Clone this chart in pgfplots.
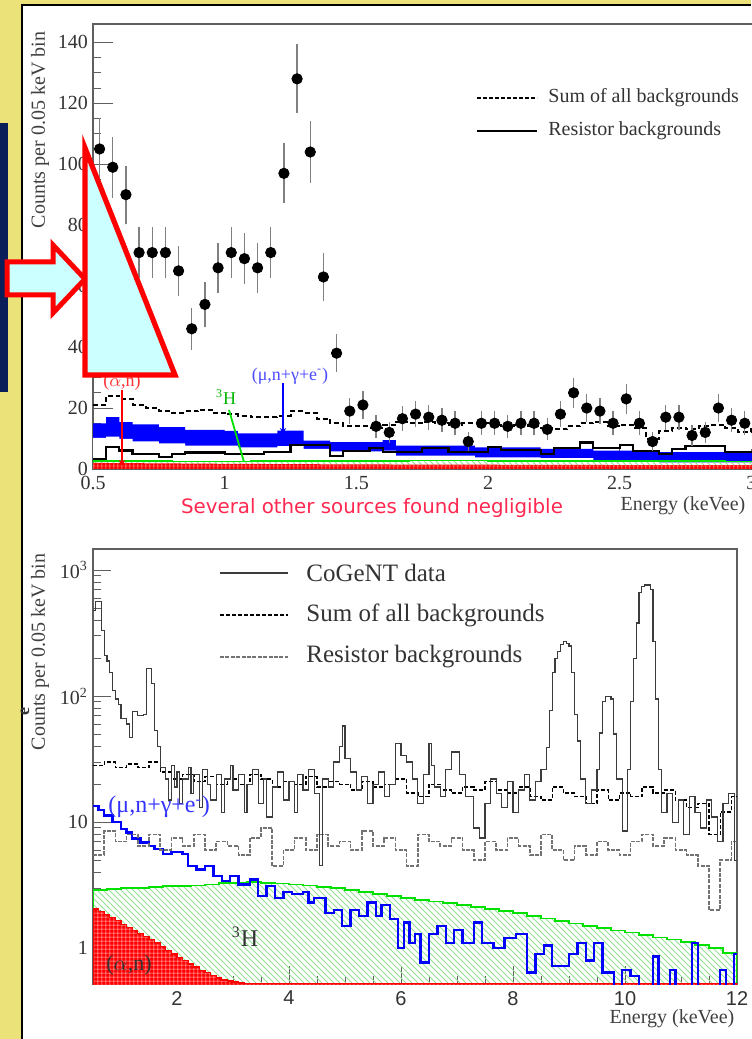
\documentclass[border=0pt]{standalone}
\usepackage{pgfplots}
\pgfplotsset{compat=1.18}
\usetikzlibrary{patterns,arrows.meta}
\usepackage{fontspec}
\setmainfont{Liberation Serif}
\newfontfamily\hel{Liberation Sans}
\newfontfamily\comic{DejaVu Sans}
\definecolor{bgyellow}{RGB}{236,226,122}
\definecolor{navy}{RGB}{10,30,90}
\definecolor{cyanfill}{RGB}{204,255,255}
\definecolor{framegray}{RGB}{95,95,95}
\definecolor{datagray}{RGB}{60,60,60}
\definecolor{resgray}{RGB}{115,115,115}
\definecolor{hgreen}{RGB}{0,225,0}
\definecolor{hatchgreen}{RGB}{150,225,150}
\definecolor{textred}{RGB}{255,40,80}
\definecolor{mublue}{RGB}{0,0,255}
\definecolor{gridwhite}{RGB}{255,190,190}
\pgfdeclarepatternformonly{finegrid}{\pgfpointorigin}{\pgfqpoint{2.2pt}{2.2pt}}{\pgfqpoint{2.2pt}{2.2pt}}{%
  \pgfsetlinewidth{0.25pt}%
  \pgfpathmoveto{\pgfqpoint{0pt}{1.1pt}}\pgfpathlineto{\pgfqpoint{2.2pt}{1.1pt}}%
  \pgfpathmoveto{\pgfqpoint{1.1pt}{0pt}}\pgfpathlineto{\pgfqpoint{1.1pt}{2.2pt}}%
  \pgfusepath{stroke}}
\pgfdeclarepatternformonly{finehatch}{\pgfqpoint{-1pt}{-1pt}}{\pgfqpoint{4pt}{4pt}}{\pgfqpoint{3pt}{3pt}}{%
  \pgfsetlinewidth{0.45pt}%
  \pgfpathmoveto{\pgfqpoint{0pt}{3pt}}\pgfpathlineto{\pgfqpoint{3.1pt}{-0.1pt}}%
  \pgfusepath{stroke}}

\begin{document}
\begin{tikzpicture}
\fill[bgyellow] (0,0) rectangle (375.5pt,519.5pt);
\fill[white] (11pt,0pt) rectangle (375.5pt,517pt);
\draw[black, line width=1pt] (11pt,0pt) -- (11pt,517pt) -- (375.5pt,517pt);

% ---------------- TOP PANEL ----------------
\begin{axis}[
  at={(46.5pt,285pt)}, anchor=south west,
  scale only axis, width=355.5pt, height=222.5pt,
  xmin=0.5, xmax=3.2, ymin=0, ymax=146,
  axis line style={framegray, line width=0.6pt},
  tick align=inside, xtick pos=left, ytick pos=left,
  xtick={0.5,1,1.5,2,2.5,3}, xticklabels={0.5,1,1.5,2,2.5,3},
  ytick={0,20,40,60,80,100,120,140},
  minor x tick num=4, minor y tick num=3,
  major tick length=10pt, minor tick length=4pt,
  tick style={framegray, line width=0.5pt},
  ticklabel style={font=\fontsize{10}{12}\selectfont, text=black!80},
  /pgf/number format/assume math mode=true,
  yticklabel style={xshift=1pt},
]
% blue band: upper edge filled, lower part blanked
\addplot[draw=none, fill=mublue, const plot] coordinates {
(0.50,0) (0.50,15) (0.55,17) (0.60,15.4) (0.65,14.6) (0.75,13.7) (0.85,12.8) (1.00,12.5) (1.05,11.7)
(1.20,12.6) (1.30,9.3) (1.40,8.8) (1.60,9.5) (1.65,7.7) (1.95,7.1) (2.20,6.6) (2.40,6.0) (2.65,5.5) (3.20,5.5) (3.20,0)};
\addplot[draw=none, fill=white, const plot] coordinates {
(0.50,0) (0.50,10.2) (0.55,10.6) (0.60,9.9) (0.65,9.1) (0.75,8.4) (0.85,7.7) (1.05,7.1) (1.20,7.5)
(1.30,6.6) (1.40,5.8) (1.60,6.0) (1.65,4.4) (1.95,3.8) (2.20,3.6) (2.40,2.7) (2.65,2.2) (3.20,2.2) (3.20,0)};
% green 3H hatched strip
\addplot[hgreen, line width=0.8pt, const plot, pattern=finehatch, pattern color=hatchgreen] coordinates {
(0.5,0) (0.5,2.6) (0.8,2.5) (1.1,2.7) (1.4,2.6) (1.7,2.8) (2.0,2.6) (2.3,2.7) (2.6,2.6) (2.9,2.5) (3.2,2.5) (3.2,0)};
% red (alpha,n) strip
\addplot[draw=none, fill=red, postaction={pattern=finegrid, pattern color=gridwhite}]
  coordinates {(0.5,0) (0.5,2.0) (1.0,1.7) (1.5,1.5) (2.0,1.4) (2.5,1.3) (3.2,1.2) (3.2,0)};
% resistor backgrounds (solid)
\addplot[black, line width=1.1pt, const plot] coordinates {
(0.50,3.2) (0.55,7.2) (0.60,6.1) (0.65,5.0) (0.75,3.9) (0.80,5.0) (0.85,5.4) (1.00,5.0)
(1.15,5.6) (1.25,7.8) (1.40,4.3) (1.45,5.9) (1.55,7.0) (1.60,5.6) (1.75,6.8) (1.85,5.6)
(2.00,7.3) (2.05,6.25) (2.20,4.8) (2.25,7.0) (2.35,8.7) (2.40,6.8) (2.50,7.9) (2.55,5.9)
(2.65,4.8) (2.70,6.5) (2.75,7.6) (2.90,5.6) (3.20,5.6)};
% sum of all backgrounds (dashed)
\addplot[black, line width=1pt, dash pattern=on 2.5pt off 1.5pt, const plot] coordinates {
(0.50,21) (0.55,24) (0.60,23) (0.65,21) (0.70,20) (0.75,19) (0.80,18.5) (0.85,19) (0.90,19.5)
(0.95,18.5) (1.00,18) (1.05,17.5) (1.10,17) (1.15,17) (1.20,17.5) (1.25,19) (1.30,18.5)
(1.35,16.5) (1.40,15) (1.45,14) (1.50,14) (1.55,13.5) (1.60,14.5) (1.65,15.5) (1.70,15)
(1.75,15.5) (1.80,15) (1.85,14.5) (1.90,15) (1.95,15) (2.00,14.5) (2.05,14) (2.10,14.5)
(2.15,14) (2.20,13.5) (2.25,13) (2.30,14) (2.35,15) (2.40,15.5) (2.45,14) (2.50,14.5)
(2.55,13.5) (2.60,10) (2.65,12.5) (2.70,13.5) (2.75,13) (2.80,14) (2.85,14.5) (2.90,13.5)
(2.95,12) (3.00,13) (3.20,13)};
% data points
\addplot[only marks, mark=*, mark size=2.6pt, black,
  error bars/.cd, y dir=both, y explicit, error mark=none,
  error bar style={line width=0.6pt, black!50}]
  table[x=x, y=y, y error=e] {
x y e
0.525 105 10.2
0.575 99 10
0.625 90 9.5
0.675 71 8.4
0.725 71 8.4
0.775 71 8.4
0.825 65 8.1
0.875 46 6.8
0.925 54 7.3
0.975 66 8.1
1.025 71 8.4
1.075 69 8.3
1.125 66 8.1
1.175 71 8.4
1.225 97 9.8
1.275 128 11.3
1.325 104 10.2
1.375 63 7.9
1.425 38 6.2
1.475 19 4.4
1.525 21 4.6
1.575 14 3.7
1.625 12 3.5
1.675 16.5 4.1
1.725 18 4.2
1.775 17 4.1
1.825 16 4
1.875 15 3.9
1.925 9 3
1.975 15 3.9
2.025 15 3.9
2.075 14 3.7
2.125 15 3.9
2.175 15 3.9
2.225 13 3.6
2.275 18 4.2
2.325 25 5
2.375 20 4.5
2.425 19 4.4
2.475 15 3.9
2.525 23 4.8
2.575 15 3.9
2.625 9 3
2.675 17 4.1
2.725 17 4.1
2.775 11 3.3
2.825 12 3.5
2.875 20 4.5
2.925 16 4
2.975 15 3.9
3.025 14 3.7
};
\end{axis}

% top panel texts
\node[rotate=90, font=\fontsize{10}{12}\selectfont, text=black!75] at (20pt,454.5pt) {Counts per 0.05 keV bin};
\node[font=\fontsize{10}{12}\selectfont, text=black!75] at (341.5pt,266.5pt) {Energy (keVee)};
\node[font=\comic\fontsize{9.9}{11}\selectfont, text=textred] at (186pt,265.5pt) {Several other sources found negligible};
\draw[black, line width=1pt, dash pattern=on 2pt off 1pt] (238.5pt,470.5pt) -- (268.5pt,470.5pt);
\node[anchor=west, font=\fontsize{10}{12}\selectfont, text=black!80, inner sep=0pt] at (274pt,470.5pt) {Sum of all backgrounds};
\draw[black, line width=1.3pt] (238.5pt,454pt) -- (268.5pt,454pt);
\node[anchor=west, font=\fontsize{10}{12}\selectfont, text=black!80, inner sep=0pt] at (274pt,454pt) {Resistor backgrounds};
% annotations
\node[font=\fontsize{9}{11}\selectfont, text=red!80] at (61pt,328.5pt) {($\alpha$,n)};
\draw[red, line width=0.9pt, -{Stealth[length=3pt,width=3pt]}] (61pt,324.5pt) -- (61pt,286.5pt);
\node[font=\fontsize{9}{11}\selectfont, text=hgreen!80!black] at (113pt,321pt) {\textsuperscript{3}H};
\draw[hgreen, line width=0.9pt] (114.5pt,314.5pt) -- (122pt,288.5pt);
\node[font=\fontsize{9}{11}\selectfont, text=mublue!70] at (145pt,331.5pt) {(μ,n+γ+e\textsuperscript{-})};
\draw[mublue, line width=0.9pt, -{Stealth[length=3pt,width=3pt]}] (141.5pt,328pt) -- (141.5pt,302.5pt);

% ---------------- BOTTOM PANEL ----------------
\begin{axis}[
  at={(46.5pt,27.5pt)}, anchor=south west,
  scale only axis, width=322pt, height=217.5pt,
  xmin=0.5, xmax=12, ymode=log, ymin=0.52, ymax=1470,
  axis line style={framegray, line width=0.6pt},
  tick align=inside, xtick pos=left, ytick pos=left,
  xtick={2,4,6,8,10,12},
  ytick={1,10,100,1000}, yticklabels={1,10,10\textsuperscript{2},10\textsuperscript{3}},
  minor x tick num=3,
  major tick length=9pt, minor tick length=4pt,
  tick style={framegray, line width=0.5pt},
  /pgf/number format/assume math mode=true,
  xticklabel style={font=\hel\fontsize{10}{12}\selectfont, text=black!80},
  yticklabel style={font=\fontsize{10}{12}\selectfont, text=black!80, xshift=1pt},
]
% 3H hatched
\addplot[hgreen, line width=0.8pt, const plot, pattern=finehatch, pattern color=hatchgreen] coordinates {
(0.5,0.1) (0.50,2.9) (0.75,2.95) (1.00,3.0) (1.25,3.0) (1.50,3.05) (1.75,3.1) (2.00,3.1) (2.25,3.15)
(2.50,3.2) (2.75,3.3) (3.00,3.3) (3.25,3.35) (3.50,3.3) (3.75,3.25) (4.00,3.2) (4.25,3.15)
(4.50,3.05) (4.75,3.0) (5.00,2.9) (5.25,2.8) (5.50,2.7) (5.75,2.6) (6.00,2.5) (6.25,2.42)
(6.50,2.35) (6.75,2.28) (7.00,2.2) (7.25,2.12) (7.50,2.05) (7.75,1.97) (8.00,1.9) (8.25,1.8)
(8.50,1.72) (8.75,1.65) (9.00,1.57) (9.25,1.5) (9.50,1.45) (9.75,1.38) (10.00,1.33)
(10.25,1.27) (10.50,1.22) (10.75,1.17) (11.00,1.12) (11.25,1.06) (11.50,1.0) (11.75,0.92)
(12.00,0.85) (12.00,0.1)};
% (alpha,n)
\addplot[red, line width=0.6pt, const plot, fill=red, postaction={pattern=finegrid, pattern color=gridwhite}] coordinates {
(0.5,0.1) (0.5,2.05) (0.6,1.95) (0.7,1.85) (0.8,1.75) (0.9,1.65) (1.0,1.55) (1.1,1.47) (1.2,1.38)
(1.3,1.3) (1.4,1.23) (1.5,1.17) (1.6,1.1) (1.7,1.03) (1.8,0.96) (1.9,0.9) (2.0,0.84) (2.1,0.8)
(2.2,0.75) (2.3,0.71) (2.4,0.67) (2.5,0.64) (2.6,0.61) (2.7,0.58) (2.8,0.56) (2.9,0.55)
(3.0,0.54) (3.1,0.53) (3.2,0.525) (12,0.525) (12,0.1)};
% mu,n+gamma+e
\addplot[mublue, line width=1.2pt, const plot] coordinates {
(0.50,13.5) (0.60,12.5) (0.70,11.3) (0.85,10) (1.00,8.8) (1.10,8.3) (1.20,7.4) (1.35,6.9)
(1.50,6.5) (1.60,6.1) (1.75,5.6) (1.90,5.8) (2.10,5.6) (2.20,4.5) (2.35,4.2) (2.50,4.5)
(2.65,3.75) (2.80,3.4) (2.95,3.75) (3.10,3.2) (3.30,3.5) (3.45,2.6) (3.60,3.1) (3.75,2.5)
(3.90,2.8) (4.05,2.7) (4.25,2.8) (4.35,2.3) (4.45,2.5) (4.65,1.9) (4.80,2.0) (4.95,1.5)
(5.10,2.0) (5.25,1.8) (5.40,2.3) (5.55,1.8) (5.65,2.2) (5.80,1.7) (5.95,1.0) (6.05,1.6)
(6.15,1.1) (6.25,1.3) (6.35,0.77) (6.50,1.3) (6.65,1.5) (6.80,1.1) (6.95,1.4) (7.10,1.1)
(7.30,1.6) (7.45,1.1) (7.65,1.0) (7.85,1.2) (8.05,1.3) (8.25,0.64) (8.40,0.9) (8.55,1.05)
(8.70,0.72) (8.85,0.72) (9.00,0.9) (9.15,1.1) (9.30,0.8) (9.45,1.1) (9.60,0.64) (9.80,0.4)
(9.95,0.67) (10.10,0.6) (10.25,0.4) (10.50,0.86) (10.60,0.4) (10.80,0.67) (10.90,0.4)
(11.20,1.1) (11.30,0.4) (11.70,0.67) (11.80,0.4) (11.95,0.9) (12.00,0.9)};
% resistor backgrounds (grey dotted)
\addplot[resgray, line width=0.8pt, dash pattern=on 2pt off 0.7pt, const plot] coordinates {
(0.5,5.5) (0.7,8.5) (0.9,7) (1.1,8) (1.3,6.5) (1.5,8) (1.7,6) (1.9,7.5) (2.1,6.5) (2.3,8)
(2.5,6) (2.7,7) (2.9,6.5) (3.1,5.5) (3.3,7.5) (3.5,9) (3.7,4.5) (3.9,6) (4.1,7.5) (4.3,6)
(4.5,8) (4.7,6.5) (4.9,7) (5.1,6) (5.3,8.5) (5.5,6.5) (5.7,7.5) (5.9,6) (6.1,4.5) (6.3,8)
(6.5,7) (6.7,6.5) (6.9,7.5) (7.1,6) (7.3,5) (7.5,7) (7.7,6) (7.9,7.5) (8.1,6.5) (8.3,5.5)
(8.5,8) (8.7,6) (8.9,5) (9.1,6.5) (9.3,5.5) (9.5,7) (9.7,6) (9.9,5.5) (10.1,7) (10.3,8)
(10.5,6.5) (10.7,7.5) (10.9,6) (11.1,5.5) (11.3,4.5) (11.5,2) (11.7,5) (11.9,7) (12.0,7)};
% sum of all backgrounds (dashed)
\addplot[black, line width=0.7pt, dash pattern=on 2pt off 1pt, const plot] coordinates {
(0.5,28) (0.7,30) (0.9,27) (1.1,29) (1.3,27) (1.5,30) (1.7,25) (1.9,22) (2.1,24) (2.3,21)
(2.5,23) (2.7,20) (2.9,22) (3.1,20) (3.3,24) (3.5,22) (3.7,19) (3.9,21) (4.1,20) (4.3,23)
(4.5,19) (4.7,21) (4.9,20) (5.1,18) (5.3,21) (5.5,19) (5.7,20) (5.9,22) (6.1,17) (6.3,16)
(6.5,20) (6.7,18) (6.9,17) (7.1,19) (7.3,18) (7.5,21) (7.7,18) (7.9,17) (8.1,19) (8.3,16)
(8.5,15) (8.7,19) (8.9,17) (9.1,16) (9.3,14) (9.5,18) (9.7,15) (9.9,17) (10.1,16) (10.3,19)
(10.5,17) (10.7,18) (10.9,15) (11.1,13) (11.3,14) (11.5,8) (11.7,12) (11.9,16) (12.0,16)};
% CoGeNT data
\addplot[datagray, line width=0.6pt, const plot] coordinates {
(0.50,480) (0.55,560) (0.60,560) (0.65,330) (0.70,211) (0.75,190) (0.80,155) (0.85,110)
(0.90,95) (0.95,86) (1.00,66) (1.10,60) (1.15,47) (1.20,76) (1.30,70) (1.40,72) (1.45,165)
(1.55,125) (1.60,53) (1.65,40) (1.70,27) (1.80,22) (1.85,15) (1.90,28) (1.95,19) (2.00,25)
(2.05,14) (2.10,22) (2.20,27) (2.25,17) (2.30,24) (2.40,13) (2.45,26) (2.55,20) (2.60,15)
(2.70,24) (2.80,12) (2.85,22) (2.95,28) (3.00,18) (3.10,24) (3.20,12) (3.25,20) (3.35,26)
(3.45,14) (3.55,22) (3.60,11) (3.70,19) (3.80,25) (3.90,15) (4.00,21) (4.10,12) (4.15,24)
(4.25,18) (4.35,26) (4.45,17) (4.55,4.5) (4.60,22) (4.70,19) (4.80,30) (4.90,40) (4.95,58)
(5.00,32) (5.10,25) (5.20,18) (5.30,23) (5.40,14) (5.50,20) (5.60,25) (5.70,16) (5.80,20)
(5.90,42) (6.00,34) (6.10,30) (6.20,22) (6.30,14) (6.40,24) (6.50,42) (6.55,28) (6.60,19)
(6.70,16) (6.80,26) (6.90,36) (7.05,24) (7.15,16) (7.30,9) (7.40,7.5) (7.50,14) (7.60,22)
(7.70,17) (7.80,13) (7.90,21) (8.00,12) (8.10,18) (8.20,24) (8.30,15) (8.40,21) (8.50,26)
(8.60,39) (8.65,77) (8.70,155) (8.75,200) (8.80,225) (8.85,255) (8.90,270) (8.95,260)
(9.00,250) (9.05,155) (9.10,71) (9.15,44) (9.20,22) (9.30,14) (9.40,18) (9.50,26) (9.55,51)
(9.60,90) (9.65,100) (9.75,95) (9.80,50) (9.85,22) (9.95,8.5) (10.05,26) (10.10,91)
(10.15,200) (10.20,380) (10.25,660) (10.30,745) (10.35,760) (10.45,700) (10.50,270)
(10.55,95) (10.60,26) (10.65,12) (10.75,17) (10.85,10) (10.95,15) (11.05,8) (11.15,16)
(11.25,12) (11.35,9) (11.45,15) (11.55,11) (11.65,7) (11.75,14) (11.85,17) (11.95,5) (12.00,5)};
\end{axis}

% bottom panel texts
\node[rotate=90, font=\fontsize{10}{12}\selectfont, text=black!75] at (20pt,193.5pt) {Counts per 0.05 keV bin};
\node[font=\fontsize{10}{12}\selectfont, text=black!75] at (336pt,10pt) {Energy (keVee)};
\draw[datagray, line width=0.6pt] (110pt,233pt) -- (144pt,233pt);
\node[anchor=west, font=\fontsize{12.5}{14}\selectfont, text=black!80, inner sep=0pt] at (153pt,233pt) {CoGeNT data};
\draw[black, line width=0.7pt, dash pattern=on 2pt off 1pt] (110pt,212pt) -- (144pt,212pt);
\node[anchor=west, font=\fontsize{12.5}{14}\selectfont, text=black!80, inner sep=0pt] at (153pt,212pt) {Sum of all backgrounds};
\draw[resgray, line width=0.9pt, dash pattern=on 2pt off 0.7pt] (110pt,191pt) -- (144pt,191pt);
\node[anchor=west, font=\fontsize{12.5}{14}\selectfont, text=black!80, inner sep=0pt] at (153pt,191pt) {Resistor backgrounds};
\node[anchor=west, font=\fontsize{12}{14}\selectfont, text=mublue!80, inner sep=0pt] at (54pt,116pt) {(μ,n+γ+e\textsuperscript{-})};
\node[font=\fontsize{12}{14}\selectfont, text=black!80] at (122.5pt,51pt) {\textsuperscript{3}H};
\node[font=\fontsize{11}{13}\selectfont, text=black!80] at (64.5pt,37pt) {($\alpha$,n)};
\node[rotate=90, font=\bfseries\fontsize{9}{10}\selectfont, text=black!80] at (12.5pt,163.5pt) {e};

% ---------------- overlays ----------------
\fill[navy] (0,323.5pt) rectangle (4pt,458pt);
\draw[red, line width=2.5pt, fill=cyanfill, line join=miter]
  (3.5pt,388.5pt) -- (26.5pt,388.5pt) -- (26.5pt,397pt) -- (42.5pt,380pt) -- (26.5pt,363pt) -- (26.5pt,372pt) -- (3.5pt,372pt) -- cycle;
\draw[red, line width=2.6pt, fill=cyanfill, line join=miter]
  (42.5pt,445.5pt) -- (42.5pt,332pt) -- (87.5pt,332pt) -- cycle;
\pgfresetboundingbox
\path[use as bounding box] (0,0) rectangle (375.5pt,519.5pt);
\end{tikzpicture}
\end{document}
